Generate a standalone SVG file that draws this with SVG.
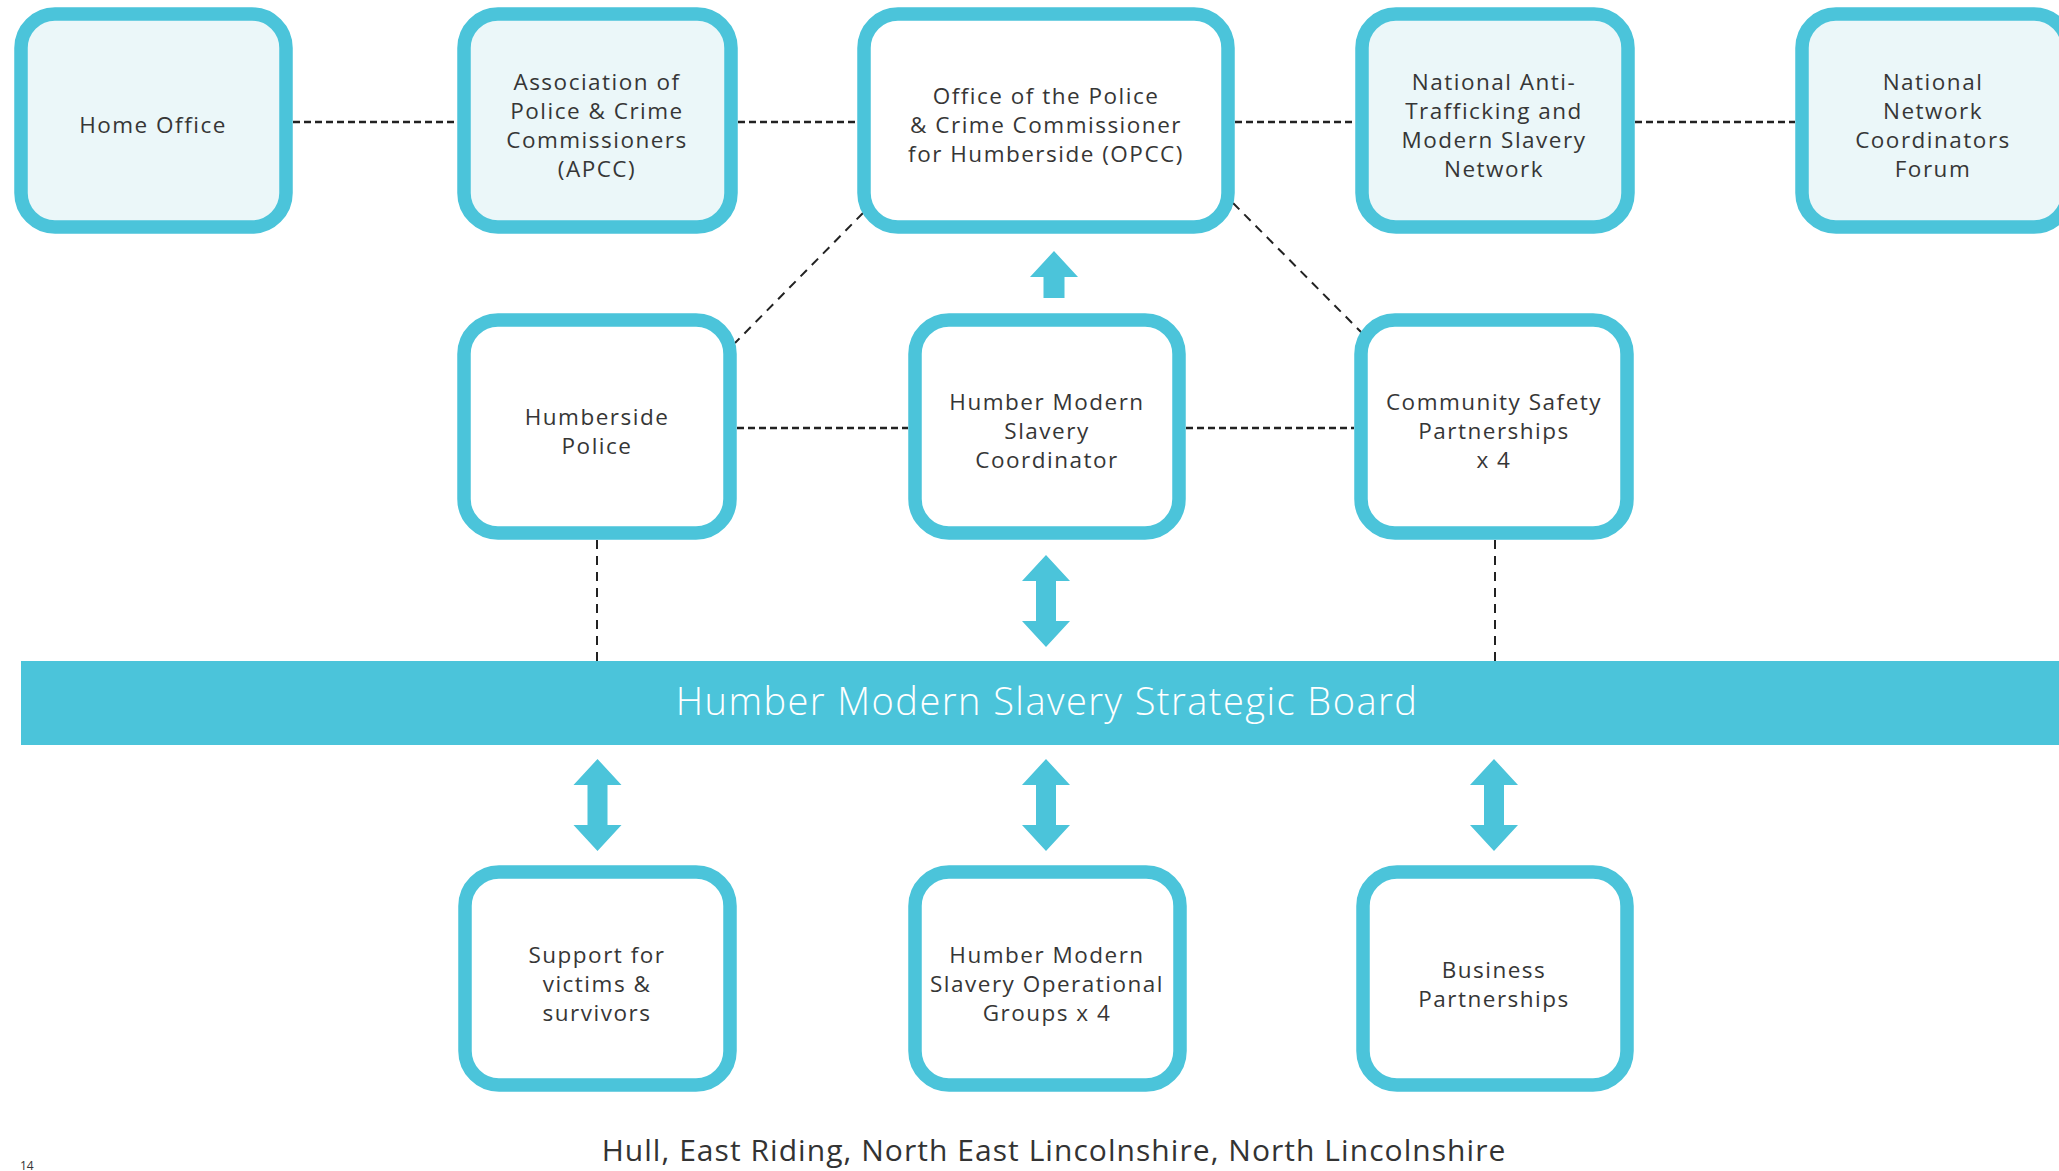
<svg xmlns="http://www.w3.org/2000/svg" width="2059" height="1171" viewBox="0 0 2059 1171">
<defs>
<style>
.box{stroke:#4BC4DA;stroke-width:13.5;fill:#FFFFFF}
.lite{fill:#EBF7F9}
.lbl{font-family:"Open Sans","Noto Sans","DejaVu Sans",sans-serif;font-size:22.5px;letter-spacing:1.5px;fill:#363636;text-anchor:middle}
.dash{stroke:#222222;stroke-width:2.6;stroke-dasharray:7 4;fill:none}
.thin{stroke:#222222;stroke-width:2;stroke-dasharray:9 7;fill:none}
.arr{fill:#4BC4DA}
</style>
</defs>
<rect width="2059" height="1171" fill="#FFFFFF"/>

<g id="connectors">
<line class="dash" x1="293" y1="122" x2="457" y2="122"/>
<line class="dash" x1="738" y1="122" x2="857" y2="122"/>
<line class="dash" x1="1235" y1="122" x2="1355" y2="122"/>
<line class="dash" x1="1635" y1="122" x2="1795" y2="122"/>
<line class="dash" x1="737" y1="428" x2="908" y2="428"/>
<line class="dash" x1="1186" y1="428" x2="1354" y2="428"/>
<line class="thin" x1="863" y1="213" x2="735" y2="343"/>
<line class="thin" x1="1233" y1="203" x2="1362" y2="333"/>
<line class="thin" x1="597" y1="540" x2="597" y2="661"/>
<line class="thin" x1="1495" y1="540" x2="1495" y2="661"/>
<polygon class="arr" points="1054,251 1078,277 1064.5,277 1064.5,298 1043.5,298 1043.5,277 1030,277"/>
<polygon class="arr" points="1046,555 1070,581 1056,581 1056,621 1070,621 1046,647 1022,621 1036,621 1036,581 1022,581"/>
<polygon class="arr" points="597.5,759 621.5,785 607.5,785 607.5,825 621.5,825 597.5,851 573.5,825 587.5,825 587.5,785 573.5,785"/>
<polygon class="arr" points="1046,759 1070,785 1056,785 1056,825 1070,825 1046,851 1022,825 1036,825 1036,785 1022,785"/>
<polygon class="arr" points="1494,759 1518,785 1504,785 1504,825 1518,825 1494,851 1470,825 1484,825 1484,785 1470,785"/>
</g>

<g id="home-office">
<rect class="box lite" x="21" y="14" width="265" height="213" rx="34"/>
<text class="lbl" x="153" y="133">Home Office</text>
</g>
<g id="apcc">
<rect class="box lite" x="464" y="14" width="267" height="213" rx="34"/>
<text class="lbl" x="597" y="90">Association of</text>
<text class="lbl" x="597" y="119">Police &amp; Crime</text>
<text class="lbl" x="597" y="148">Commissioners</text>
<text class="lbl" x="597" y="177">(APCC)</text>
</g>
<g id="opcc">
<rect class="box" x="864" y="14" width="364" height="213" rx="34"/>
<text class="lbl" x="1046" y="104">Office of the Police</text>
<text class="lbl" x="1046" y="133">&amp; Crime Commissioner</text>
<text class="lbl" x="1046" y="162">for Humberside (OPCC)</text>
</g>
<g id="national-anti-trafficking">
<rect class="box lite" x="1362" y="14" width="266" height="213" rx="34"/>
<text class="lbl" x="1494" y="90">National Anti-</text>
<text class="lbl" x="1494" y="119">Trafficking and</text>
<text class="lbl" x="1494" y="148">Modern Slavery</text>
<text class="lbl" x="1494" y="177">Network</text>
</g>
<g id="national-network-forum">
<rect class="box lite" x="1802" y="14" width="266" height="213" rx="34"/>
<text class="lbl" x="1933" y="90">National</text>
<text class="lbl" x="1933" y="119">Network</text>
<text class="lbl" x="1933" y="148">Coordinators</text>
<text class="lbl" x="1933" y="177">Forum</text>
</g>

<g id="humberside-police">
<rect class="box" x="464" y="320" width="266" height="213" rx="34"/>
<text class="lbl" x="597" y="425">Humberside</text>
<text class="lbl" x="597" y="454">Police</text>
</g>
<g id="coordinator">
<rect class="box" x="915" y="320" width="264" height="213" rx="34"/>
<text class="lbl" x="1047" y="410">Humber Modern</text>
<text class="lbl" x="1047" y="439">Slavery</text>
<text class="lbl" x="1047" y="468">Coordinator</text>
</g>
<g id="community-safety">
<rect class="box" x="1361" y="320" width="266" height="213" rx="34"/>
<text class="lbl" x="1494" y="410">Community Safety</text>
<text class="lbl" x="1494" y="439">Partnerships</text>
<text class="lbl" x="1494" y="468">x 4</text>
</g>

<g id="strategic-board">
<rect x="21" y="661" width="2038" height="84" fill="#4BC4DA"/>
<text x="1047" y="715" font-family="Open Sans, Noto Sans, sans-serif" font-size="38" font-weight="300" letter-spacing="1.45" fill="#FFFFFF" text-anchor="middle">Humber Modern Slavery Strategic Board</text>
</g>

<g id="support-victims">
<rect class="box" x="465" y="872" width="265" height="213" rx="34"/>
<text class="lbl" x="597" y="963">Support for</text>
<text class="lbl" x="597" y="992">victims &amp;</text>
<text class="lbl" x="597" y="1021">survivors</text>
</g>
<g id="operational-groups">
<rect class="box" x="915" y="872" width="265" height="213" rx="34"/>
<text class="lbl" x="1047" y="963">Humber Modern</text>
<text class="lbl" x="1047" y="992">Slavery Operational</text>
<text class="lbl" x="1047" y="1021">Groups x 4</text>
</g>
<g id="business-partnerships">
<rect class="box" x="1363" y="872" width="264" height="213" rx="34"/>
<text class="lbl" x="1494" y="978">Business</text>
<text class="lbl" x="1494" y="1007">Partnerships</text>
</g>

<text x="1054" y="1161" font-family="Open Sans, Noto Sans, sans-serif" font-size="30" letter-spacing="1.05" fill="#333333" text-anchor="middle">Hull, East Riding, North East Lincolnshire, North Lincolnshire</text>
<text x="20" y="1170" font-family="Open Sans, Noto Sans, sans-serif" font-size="12" fill="#333333">14</text>
</svg>
